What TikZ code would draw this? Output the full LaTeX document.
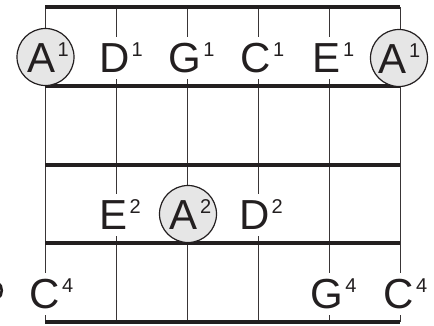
\documentclass[tikz,border=0pt]{standalone}
\usepackage{fontspec}
\setmainfont{Liberation Sans}
\definecolor{ink}{HTML}{231F20}
\definecolor{dotfill}{HTML}{E6E6E6}
\newcommand\supdigit[1]{\rlap{\hspace{2pt}\raisebox{16pt}{\fontsize{20}{20}\selectfont #1}}}
\tikzset{
  fret/.style={line width=4pt, ink},
  string/.style={line width=0.9pt, ink!90},
  lab/.style={anchor=base, fill=white, inner xsep=1pt, inner ysep=0pt, text height=35pt, text depth=7pt, font=\fontsize{42}{42}\selectfont, text=ink},
  labc/.style={anchor=base, inner sep=0pt, font=\fontsize{42}{42}\selectfont, text=ink},
  dot/.style={circle, draw=ink, line width=1.2pt, fill=dotfill, minimum size=57pt, inner sep=0pt}
}
\begin{document}
\begin{tikzpicture}[x=1pt,y=-1pt]
\useasboundingbox (0,0) rectangle (434,325);
% string coordinates
\foreach \n/\x in {1/45,2/116.5,3/187,4/258,5/329,6/400}{
  \coordinate (s\n t) at (\x,7);
  \coordinate (s\n b) at (\x,322);
}
\foreach \n/\y in {1/7,2/86,3/164.5,4/243,5/322}{
  \coordinate (f\n l) at (45,\y);
  \coordinate (f\n r) at (400,\y);
}
% strings
\foreach \n in {1,...,6}{ \draw[string] (s\n t) -- (s\n b); }
% frets
\foreach \n in {1,...,5}{ \draw[fret] (f\n l) -- (f\n r); }
% circles
\node[dot] (c1) at (45.5,57) {};
\node[dot] (c2) at (399,58) {};
\node[dot] (c3) at (188,214) {};
% row 1
\node[labc] (a1l) at (41.5,72) {A\supdigit{1}};
\node[lab] (d1) at (114.5,72) {D\supdigit{1}};
\node[lab] (g1) at (185,72) {G\supdigit{1}};
\node[lab] (c1l) at (256,72) {C\supdigit{1}};
\node[lab] (e1) at (327,72) {E\supdigit{1}};
\node[labc] (a1r) at (393,73) {A\supdigit{1}};
% row 3
\node[lab] (e2) at (113.5,229) {E\supdigit{2}};
\node[labc] (a2) at (184,229) {A\supdigit{2}};
\node[lab] (d2) at (254.5,229) {D\supdigit{2}};
% row 4
\node[lab] (c4l) at (45,308) {C\supdigit{4}};
\node[lab] (g4) at (327,308) {G\supdigit{4}};
\node[lab] (c4r) at (399,308) {C\supdigit{4}};
% cut-off glyph at the left edge
\draw[ink, line width=2.6pt] (-2,283) .. controls (3,285) and (3,296) .. (-2,298);
\end{tikzpicture}
\end{document}
